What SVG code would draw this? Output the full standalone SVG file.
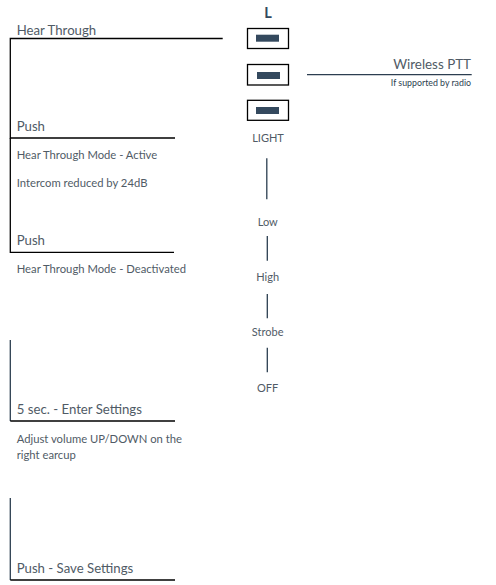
<svg xmlns="http://www.w3.org/2000/svg" width="496" height="585" viewBox="0 0 496 585">
<style>
text{font-family:Lato,"Open Sans","Liberation Sans",sans-serif;fill:#505b66}
.h{font-size:13.2px}
.s{font-size:11.25px}
.c{font-size:11px;text-anchor:middle}
.k{fill:none;stroke:#000;stroke-width:1.3}
.n{fill:none;stroke:#2c3e50;stroke-width:1.3}
.box{fill:#fff;stroke:#000;stroke-width:1.3}
.bar{fill:#34495e}
</style>
<rect width="496" height="585" fill="#fff"/>
<g id="connectors">
<path class="k" d="M222.7 38.5H10.3V138H175"/>
<path class="k" d="M10.3 138V252.3H174"/>
<path class="n" d="M10.3 340V421"/>
<path class="k" d="M10.3 421H175"/>
<path class="n" d="M10.3 498V580"/>
<path class="k" d="M10.3 580H175"/>
<path class="n" d="M307 74.7H471.7"/>
<path class="n" d="M266.8 158.3V199.3M267.3 236V260.7M267.3 294V318.3M267.3 347.7V372.3"/>
</g>
<g id="left-label">
<text x="268" y="17.5" style="font-size:14.5px;font-weight:bold;fill:#34495e;text-anchor:middle">L</text>
</g>
<g id="button1">
<rect class="box" x="247.5" y="28.5" width="41" height="20"/>
<rect class="bar" x="256" y="34.7" width="23" height="7"/>
</g>
<g id="button2">
<rect class="box" x="247.5" y="64.5" width="41" height="20.5"/>
<rect class="bar" x="257" y="72" width="23" height="7"/>
</g>
<g id="button3">
<rect class="box" x="247.5" y="100.3" width="41" height="20"/>
<rect class="bar" x="256" y="107" width="23" height="7"/>
</g>
<g id="light">
<text class="c" x="268" y="141.8">LIGHT</text>
<text class="c" x="267.7" y="225.5">Low</text>
<text class="c" x="267.7" y="281.3">High</text>
<text class="c" x="267.7" y="336.2">Strobe</text>
<text class="c" x="267.7" y="391.8">OFF</text>
</g>
<g id="wireless-ptt">
<text x="471" y="68.5" style="font-size:13.4px;text-anchor:end">Wireless PTT</text>
<text x="471" y="86.3" style="font-size:8.8px;text-anchor:end;fill:#2c3e50">If supported by radio</text>
</g>
<g id="hear-through">
<text class="h" x="16.7" y="35.3">Hear Through</text>
</g>
<g id="push1">
<text class="h" x="16.7" y="130.8">Push</text>
<text class="s" x="16.7" y="159.3">Hear Through Mode - Active</text>
<text class="s" x="16.7" y="187">Intercom reduced by 24dB</text>
</g>
<g id="push2">
<text class="h" x="16.7" y="245">Push</text>
<text class="s" x="16.7" y="273">Hear Through Mode - Deactivated</text>
</g>
<g id="settings">
<text class="h" x="16.7" y="414.3">5 sec. - Enter Settings</text>
<text class="s" x="16.7" y="443.3">Adjust volume UP/DOWN on the</text>
<text class="s" x="16.7" y="459.3">right earcup</text>
</g>
<g id="save">
<text class="h" x="16.7" y="572.5">Push - Save Settings</text>
</g>
</svg>
